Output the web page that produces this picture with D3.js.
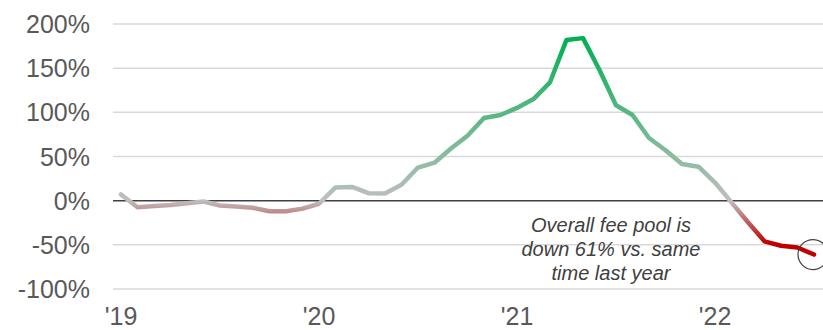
<!DOCTYPE html>
<html>
<head>
<meta charset="utf-8">
<script src="https://cdn.jsdelivr.net/npm/d3@7"></script>
<style>
  html, body { margin: 0; padding: 0; background: #fff; }
  svg { display: block; font-family: Arial, "Liberation Sans", sans-serif; }
</style>
</head>
<body>
<svg id="chart" width="823" height="330"></svg>
<script>
// Year-over-year change in the overall fee pool, monthly, Jan 2019 – Jul 2022 (%)
const months = d3.range(43); // 0 = Jan 2019
const changePct = [
  7, -7.5, -6, -5, -3, -1, -5.5, -6.5, -8, -12, -12, -9,
  -3.5, 15, 15.5, 8.5, 8, 18, 37.5, 43, 59, 73.5, 93.5, 97,
  105, 115, 134, 182, 184, 148, 108, 97, 71, 57, 41.5, 38.5,
  20.5, -2, -24.5, -46, -51, -53, -61
];
const yTicks = [200, 150, 100, 50, 0, -50, -100];
const xTickMonths = [0, 12, 24, 36];
const xTickLabels = ["'19", "'20", "'21", "'22"];
const noteLines = ["Overall fee pool is", "down 61% vs. same", "time last year"];

const svg = d3.select("#chart");

const x = d3.scaleLinear().domain([0, 42]).range([121, 814]);
const y = d3.scaleLinear().domain([-100, 200]).range([289, 24]);

// horizontal gridlines
svg.append("g")
  .selectAll("line")
  .data(yTicks.filter(d => d !== 0))
  .join("line")
  .attr("x1", 113).attr("x2", 823)
  .attr("y1", d => y(d)).attr("y2", d => y(d))
  .attr("stroke", "#d9d9d9").attr("stroke-width", 1.5);

// y axis labels
svg.append("g")
  .selectAll("text")
  .data(yTicks)
  .join("text")
  .attr("x", 90)
  .attr("y", d => y(d))
  .attr("dy", "0.36em")
  .attr("text-anchor", "end")
  .attr("font-size", 25)
  .attr("fill", "#595959")
  .text(d => d + "%");

// x axis labels
svg.append("g")
  .selectAll("text")
  .data(xTickMonths)
  .join("text")
  .attr("x", d => x(d))
  .attr("y", 325)
  .attr("text-anchor", "middle")
  .attr("font-size", 25)
  .attr("fill", "#595959")
  .text((d, i) => xTickLabels[i]);

// zero baseline
svg.append("line")
  .attr("x1", 113).attr("x2", 823)
  .attr("y1", y(0)).attr("y2", y(0))
  .attr("stroke", "#404040").attr("stroke-width", 1.5);

// vertical colour ramp: red below zero, grey at zero, green at the peak
const gTop = y(184), gBottom = y(-61);
const frac = v => (y(v) - gTop) / (gBottom - gTop);
const grad = svg.append("defs").append("linearGradient")
  .attr("id", "ramp")
  .attr("gradientUnits", "userSpaceOnUse")
  .attr("x1", 0).attr("x2", 0)
  .attr("y1", gTop).attr("y2", gBottom);
grad.append("stop").attr("offset", 0).attr("stop-color", "#00b050");
grad.append("stop").attr("offset", frac(0)).attr("stop-color", "#bfbfbf");
grad.append("stop").attr("offset", frac(-48)).attr("stop-color", "#c00000");
grad.append("stop").attr("offset", 1).attr("stop-color", "#c00000");

const line = d3.line()
  .x((d, i) => x(months[i]))
  .y(d => y(d));

svg.append("path")
  .datum(changePct)
  .attr("d", line)
  .attr("fill", "none")
  .attr("stroke", "url(#ramp)")
  .attr("stroke-width", 4.5)
  .attr("stroke-linejoin", "round")
  .attr("stroke-linecap", "round");

// highlight ring on the latest reading
const last = changePct.length - 1;
svg.append("circle")
  .attr("cx", x(months[last]) - 1)
  .attr("cy", y(changePct[last]))
  .attr("r", 15)
  .attr("fill", "none")
  .attr("stroke", "#404040")
  .attr("stroke-width", 1.2);

// annotation
svg.append("text")
  .attr("x", 611)
  .attr("y", 232)
  .attr("text-anchor", "middle")
  .attr("font-size", 20)
  .attr("font-style", "italic")
  .attr("fill", "#404040")
  .selectAll("tspan")
  .data(noteLines)
  .join("tspan")
  .attr("x", 611)
  .attr("dy", (d, i) => i === 0 ? 0 : 24)
  .text(d => d);
</script>
</body>
</html>
